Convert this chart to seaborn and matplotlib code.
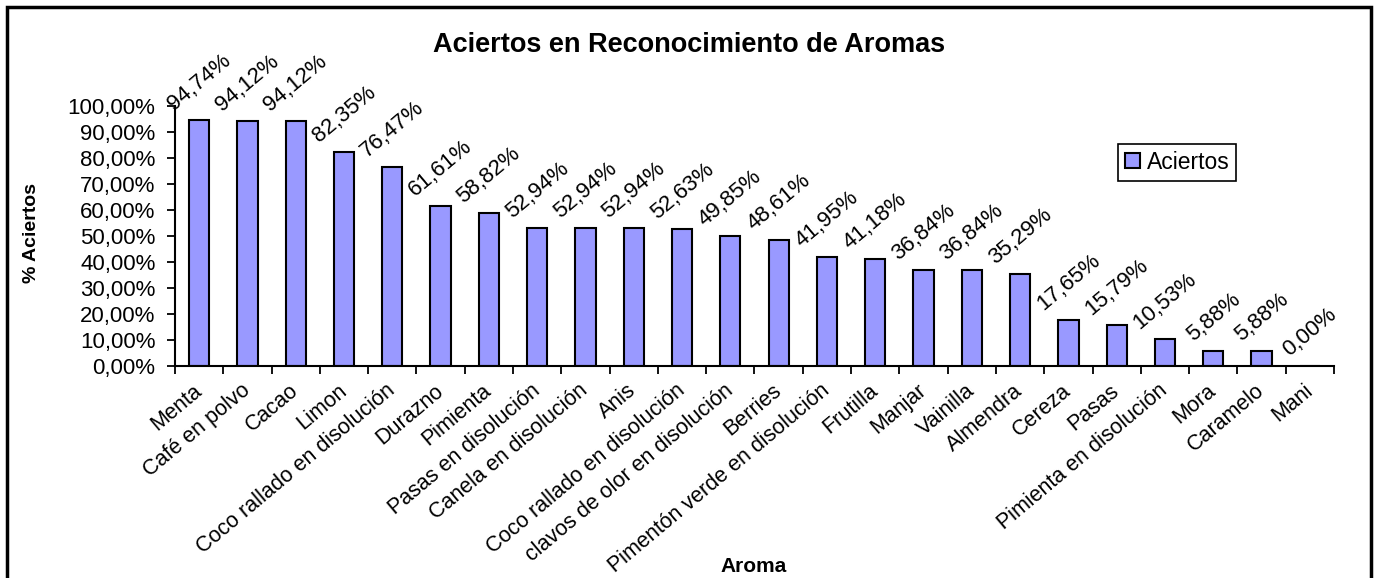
import matplotlib.pyplot as plt
import matplotlib.patches as mpatches
import matplotlib.transforms as mtransforms
import numpy as np
import seaborn as sns

aromas = ["Menta", "Café en polvo", "Cacao", "Limon", "Coco rallado en disolución",
          "Durazno", "Pimienta", "Pasas en disolución", "Canela en disolución", "Anis",
          "Coco rallado en disolución", "clavos de olor en disolución", "Berries",
          "Pimentón verde en disolución", "Frutilla", "Manjar", "Vainilla", "Almendra",
          "Cereza", "Pasas", "Pimienta en disolución", "Mora", "Caramelo", "Mani"]
aciertos = [94.74, 94.12, 94.12, 82.35, 76.47, 61.61, 58.82, 52.94, 52.94, 52.94,
            52.63, 49.85, 48.61, 41.95, 41.18, 36.84, 36.84, 35.29, 17.65, 15.79,
            10.53, 5.88, 5.88, 0.00]
y_ticks = [0, 10, 20, 30, 40, 50, 60, 70, 80, 90, 100]

sns.set_theme(style="white")
plt.rcParams["font.family"] = ["Liberation Sans", "DejaVu Sans"]
for k in ["text.color", "axes.labelcolor", "xtick.color", "ytick.color"]:
    plt.rcParams[k] = "black"

fig = plt.figure(figsize=(13.77, 5.78), dpi=100)
W, H = 1377, 578
ax = fig.add_axes([175 / W, 1 - 366 / H, (1334 - 175) / W, (366 - 106) / H])

pos = np.arange(len(aromas))
sns.barplot(x=pos, y=aciertos, color="#9999FF", edgecolor="black", linewidth=1.5,
            width=0.42, saturation=1, ax=ax, label="Aciertos")

ax.set_xlim(-0.5, len(aromas) - 0.5)
ax.set_ylim(0, 100)

# value labels above bars
for p, v in zip(pos, aciertos):
    ax.annotate(f"{v:.2f}%".replace(".", ","), (p, v), xytext=(0, 4),
                textcoords="offset points", rotation=40, ha="center", va="bottom",
                fontsize=16)

ax.set_yticks(y_ticks)
ax.set_yticklabels([f"{t:.2f}%".replace(".", ",") for t in y_ticks], fontsize=16)
ax.set_xticks(pos)
ax.set_xticklabels(aromas, rotation=40, ha="right", va="center",
                   rotation_mode="anchor", fontsize=15.5)
shift = mtransforms.ScaledTranslation(-6 / 100, 0, fig.dpi_scale_trans)
for lbl in ax.get_xticklabels():
    lbl.set_transform(lbl.get_transform() + shift)
ax.set_xticks(np.arange(-0.5, len(aromas)), minor=True)
ax.tick_params(axis="x", which="major", length=0, pad=16)
ax.tick_params(axis="x", which="minor", length=6, width=1.3, color="black",
               direction="out", bottom=True)
ax.tick_params(axis="y", length=6, width=1.3, color="black", direction="out",
               left=True, pad=8)

for s in ["top", "right"]:
    ax.spines[s].set_visible(False)
for s in ["left", "bottom"]:
    ax.spines[s].set_color("black")
    ax.spines[s].set_linewidth(1.5)

ax.set_xlabel("")
ax.set_ylabel("")
fig.text(31 / W, 1 - 233 / H, "% Aciertos", rotation=90, ha="center", va="center",
         fontsize=14, fontweight="bold")
fig.text(754 / W, 1 - 572 / H, "Aroma", ha="center", va="baseline",
         fontsize=15, fontweight="bold")
fig.text(689 / W, 1 - 52 / H, "Aciertos en Reconocimiento de Aromas", ha="center",
         va="baseline", fontsize=19.5, fontweight="bold")

leg = ax.legend(loc="upper left", bbox_to_anchor=(1118 / W, 1 - 144 / H),
                bbox_transform=fig.transFigure, fontsize=16.5, fancybox=False,
                framealpha=1, edgecolor="black", handlelength=0.65,
                handleheight=0.65, handletextpad=0.3, borderpad=0.3,
                borderaxespad=0)
leg.get_frame().set_linewidth(1.2)

fig.patches.append(mpatches.Rectangle((7 / W, -0.05), (1371 - 7) / W, 1 - 7 / H + 0.05,
                                      transform=fig.transFigure, fill=False,
                                      edgecolor="black", linewidth=2.5))

fig.savefig("out.png", dpi=100)
